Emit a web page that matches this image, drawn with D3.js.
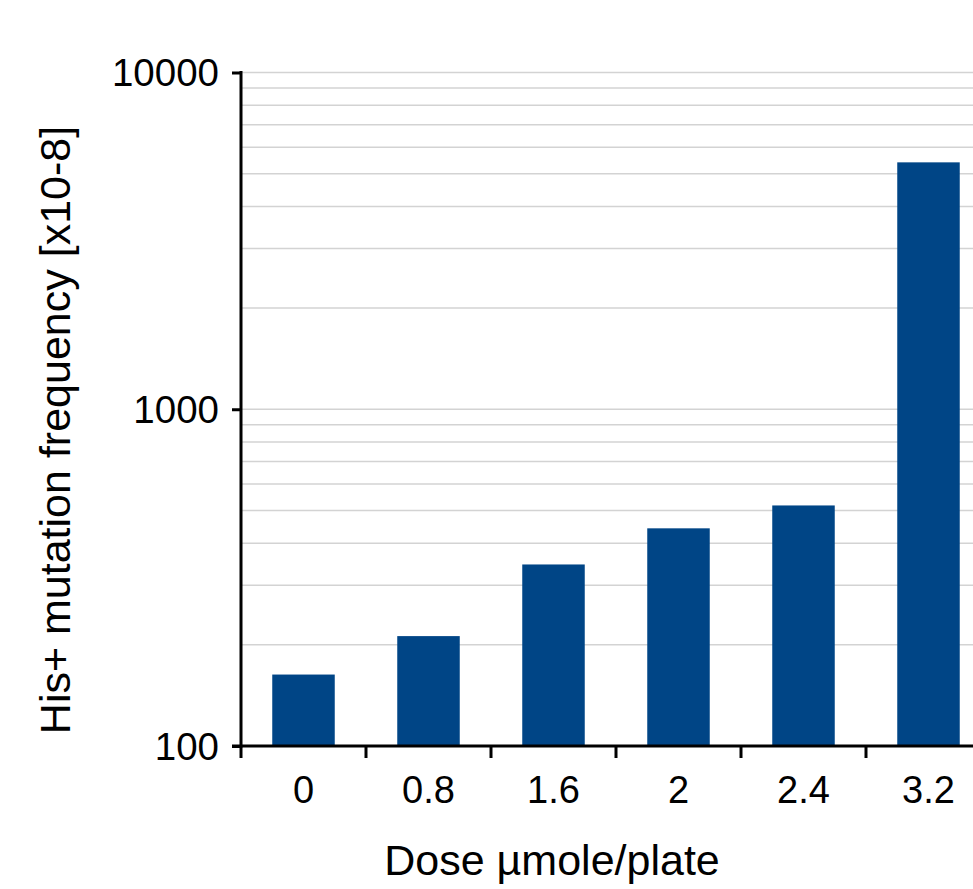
<!DOCTYPE html>
<html>
<head>
<meta charset="utf-8">
<script src="https://cdn.jsdelivr.net/npm/d3@7"></script>
<style>
  body { margin: 0; background: #fff; }
  text { font-family: "Liberation Sans", Arial, sans-serif; fill: #000; }
</style>
</head>
<body>
<div class="chart"></div>
<script>
// data
const DOSES = ["0", "0.8", "1.6", "2", "2.4", "3.2"];
const FREQUENCY = [163, 212, 346, 443, 518, 5410];
const Y_TICKS = [100, 1000, 10000];

const WIDTH = 973;
const HEIGHT = 889;
const BAR_COLOR = "#004586";
const GRID_COLOR = "#d3d3d3";

const PLOT_LEFT = 241, PLOT_TOP = 72.5, PLOT_BOTTOM = 746;

const svg = d3.select(".chart")
  .append("svg")
  .attr("width", WIDTH)
  .attr("height", HEIGHT);

const xScale = d3.scaleBand()
  .domain(DOSES)
  .range([PLOT_LEFT, PLOT_LEFT + 750])
  .paddingInner(0.5)
  .paddingOuter(0.25);

const yScale = d3.scaleLog()
  .domain([100, 10000])
  .range([PLOT_BOTTOM, PLOT_TOP]);

// grid lines at every log tick (minor ones included)
const gridTicks = yScale.ticks().filter(d => d > 100);
svg.append("g")
  .attr("class", "grid")
  .selectAll("line")
  .data(gridTicks)
  .join("line")
  .attr("x1", PLOT_LEFT)
  .attr("x2", WIDTH)
  .attr("y1", d => yScale(d))
  .attr("y2", d => yScale(d))
  .attr("stroke", GRID_COLOR)
  .attr("stroke-width", 1.5);

// bars
svg.append("g")
  .attr("class", "bars")
  .selectAll("rect")
  .data(DOSES.map((d, i) => ({ dose: d, value: FREQUENCY[i] })))
  .join("rect")
  .attr("x", d => xScale(d.dose))
  .attr("y", d => yScale(d.value))
  .attr("width", xScale.bandwidth())
  .attr("height", d => PLOT_BOTTOM - yScale(d.value))
  .attr("fill", BAR_COLOR);

// y axis
const yAxis = svg.append("g")
  .attr("class", "axis y-axis")
  .attr("transform", `translate(${PLOT_LEFT}, 0)`)
  .call(d3.axisLeft(yScale)
    .tickValues(Y_TICKS)
    .tickFormat(d3.format("d"))
    .tickSize(9)
    .tickPadding(13));
yAxis.select(".domain").remove();
yAxis.selectAll(".tick line").attr("stroke", "#000").attr("stroke-width", 3);
yAxis.selectAll(".tick text").attr("font-size", 38.5).attr("dy", "0.35em");
yAxis.append("line")
  .attr("y1", PLOT_TOP - 1.5)
  .attr("y2", PLOT_BOTTOM + 1.5)
  .attr("stroke", "#000")
  .attr("stroke-width", 3);

// x axis, ticks at band boundaries
const step = xScale.step();
const boundaries = d3.range(DOSES.length + 1).map(i => xScale.range()[0] + i * step);
const xAxis = svg.append("g")
  .attr("class", "axis x-axis")
  .attr("transform", `translate(0, ${PLOT_BOTTOM})`);
xAxis.append("line")
  .attr("x1", PLOT_LEFT - 9)
  .attr("x2", WIDTH)
  .attr("stroke", "#000")
  .attr("stroke-width", 3);
xAxis.selectAll(".bound")
  .data(boundaries)
  .join("line")
  .attr("class", "bound")
  .attr("x1", d => d)
  .attr("x2", d => d)
  .attr("y1", 0)
  .attr("y2", 12)
  .attr("stroke", "#000")
  .attr("stroke-width", 3);
xAxis.selectAll(".label")
  .data(DOSES)
  .join("text")
  .attr("class", "label")
  .attr("x", d => xScale(d) + xScale.bandwidth() / 2)
  .attr("y", 57)
  .attr("text-anchor", "middle")
  .attr("font-size", 38)
  .text(d => d);

// axis titles
svg.append("text")
  .attr("x", (PLOT_LEFT + WIDTH) / 2 - 55)
  .attr("y", 875)
  .attr("text-anchor", "middle")
  .attr("font-size", 43)
  .text("Dose µmole/plate");

svg.append("text")
  .attr("transform", `translate(70, 430) rotate(-90)`)
  .attr("text-anchor", "middle")
  .attr("font-size", 43)
  .text("His+ mutation frequency [x10-8]");
</script>
</body>
</html>
